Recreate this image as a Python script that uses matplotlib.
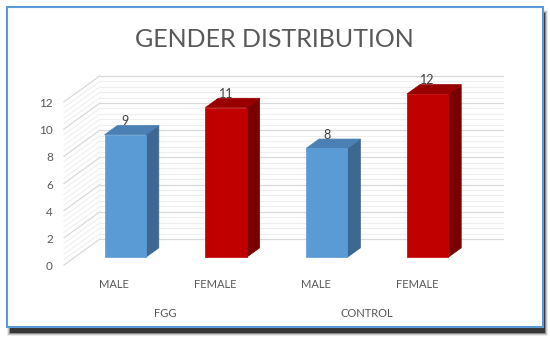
import matplotlib.pyplot as plt
from matplotlib.patches import Polygon, Rectangle
import numpy as np

groups = ['FGG', 'CONTROL']
genders = ['MALE', 'FEMALE', 'MALE', 'FEMALE']
counts = [9, 11, 8, 12]
bar_kind = ['male', 'female', 'male', 'female']
y_ticks = [0, 2, 4, 6, 8, 10, 12]
y_max = 12
minor_step = 0.4

# face colours: front, top, side
faces = {
    'male': ('#5B9BD5', '#4A80B3', '#3D6891'),
    'female': ('#C00000', '#980000', '#7A0000'),
}

W, H = 550, 341
fig = plt.figure(figsize=(W / 100, H / 100), dpi=100)
ax = fig.add_axes([0, 0, 1, 1])

# pixel size of one category slot and one count unit (front plane)
slot_px, unit_px = 100.8, 13.6
x0_px, y0_px = 114.4, 265
ax.set_xlim(-x0_px / slot_px, (W - x0_px) / slot_px)
ax.set_ylim((y0_px - H) / unit_px, y0_px / unit_px)
ax.axis('off')

# oblique depth of the whole plot box, in data units
dep_x, dep_y = 36 / slot_px, 26 / unit_px
bar_f0, bar_f1 = 0.30, 0.66   # depth of bar front / back faces
half_w = 0.205
n = len(counts)
wall_l, wall_r = -0.5, n - 0.5


def proj(x, v, f):
    return x + dep_x * f, v + dep_y * f


# gridlines on back wall and left wall
for v in np.arange(0, y_max + 1e-9, minor_step):
    major = abs(v / 2 - round(v / 2)) < 1e-6
    col = '#D9D9D9' if major else '#EEEEEE'
    lw = 0.9 if major else 0.8
    bl = proj(wall_l, v, 1)
    br = proj(wall_r, v, 1)
    fl = proj(wall_l, v, 0)
    ax.plot([bl[0], br[0]], [bl[1], br[1]], color=col, lw=lw, zorder=1)
    ax.plot([fl[0], bl[0]], [fl[1], bl[1]], color=col, lw=lw, zorder=1)

# bars
for i, (c, kind) in enumerate(zip(counts, bar_kind)):
    front, top, side = faces[kind]
    xl, xr = i - half_w, i + half_w
    p = proj
    side_poly = [p(xr, 0, bar_f0), p(xr, 0, bar_f1), p(xr, c, bar_f1), p(xr, c, bar_f0)]
    top_poly = [p(xl, c, bar_f0), p(xr, c, bar_f0), p(xr, c, bar_f1), p(xl, c, bar_f1)]
    front_poly = [p(xl, 0, bar_f0), p(xr, 0, bar_f0), p(xr, c, bar_f0), p(xl, c, bar_f0)]
    ax.add_patch(Polygon(side_poly, closed=True, fc=side, ec=side, lw=0.5, zorder=3))
    ax.add_patch(Polygon(top_poly, closed=True, fc=top, ec=top, lw=0.5, zorder=3))
    ax.add_patch(Polygon(front_poly, closed=True, fc=front, ec=front, lw=0.5, zorder=4))
    tx, ty = p(i, c, bar_f0)
    ax.text(tx, ty + 1.0, str(c), ha='center', va='center', fontsize=9,
            color='#404040', family='Lato', zorder=6)

# y tick labels
for t in y_ticks:
    ax.text(wall_l - 0.11, t - 0.12, str(t), ha='right', va='center', fontsize=8.5,
            color='#595959', family='Lato')

# category labels and group labels
for i, g in enumerate(genders):
    ax.text(i, -1.47, g, ha='center', va='center', fontsize=8,
            color='#595959', family='Lato')
for k, g in enumerate(groups):
    ax.text(2 * k + 0.5, -3.53, g, ha='center', va='center', fontsize=8,
            color='#595959', family='Lato')

fig.text(274 / W, 1 - 39.5 / H, 'GENDER DISTRIBUTION', ha='center', va='center',
         fontsize=18, color='#595959', family='Lato', fontweight='normal')

# chart frame with drop shadow (mostly below)
bx, by, bw, bh = 7, 7, 536, 320
for k, a in enumerate([0.08, 0.15, 0.30, 0.60]):
    grow = 3 - k
    fig.add_artist(Rectangle(((bx + 3 - grow) / W, 1 - (by + bh + 6 + grow) / H),
                             (bw - 1 + 2 * grow) / W, (bh + 2 * grow) / H,
                             transform=fig.transFigure, fc='black', ec='none',
                             alpha=a, zorder=-3))
fig.add_artist(Rectangle((bx / W, 1 - (by + bh) / H), bw / W, bh / H,
                         transform=fig.transFigure, fc='white', ec='#5B9BD5',
                         lw=1.5, zorder=-2))
ax.set_zorder(1)
ax.patch.set_alpha(0)

fig.savefig('out.png', dpi=100)
